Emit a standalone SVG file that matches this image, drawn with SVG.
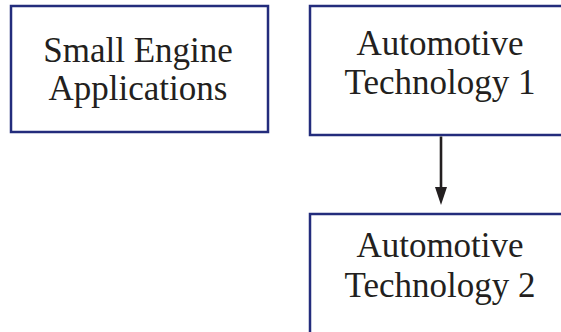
<svg xmlns="http://www.w3.org/2000/svg" width="561" height="332" viewBox="0 0 561 332">
<defs>
<style>
.box{fill:#fff;stroke:#232c7c;stroke-width:2.5}
.lbl{font-family:"Liberation Serif","Times New Roman",serif;font-size:35px;fill:#231f20;text-anchor:middle}
.conn{stroke:#231f20;stroke-width:2.6;fill:none}
</style>
<marker id="ah" markerUnits="userSpaceOnUse" markerWidth="18" markerHeight="12" refX="0" refY="6" viewBox="0 0 18 12" orient="auto">
<path d="M0,0 L18,6 L0,12 Z" fill="#231f20"/>
</marker>
</defs>
<rect width="561" height="332" fill="#fff"/>
<g id="node-small-engine">
<rect class="box" x="11" y="6" width="257" height="126"/>
<text class="lbl" x="138" y="62">Small Engine</text>
<text class="lbl" x="138" y="100">Applications</text>
</g>
<g id="node-auto1">
<rect class="box" x="310" y="6" width="262" height="129"/>
<text class="lbl" x="440" y="55">Automotive</text>
<text class="lbl" x="440" y="94">Technology 1</text>
</g>
<g id="node-auto2">
<rect class="box" x="310" y="214" width="262" height="130"/>
<text class="lbl" x="440" y="257">Automotive</text>
<text class="lbl" x="440" y="297">Technology 2</text>
</g>
<g id="connectors">
<line class="conn" x1="441" y1="136.5" x2="441" y2="187" marker-end="url(#ah)"/>
</g>
</svg>
